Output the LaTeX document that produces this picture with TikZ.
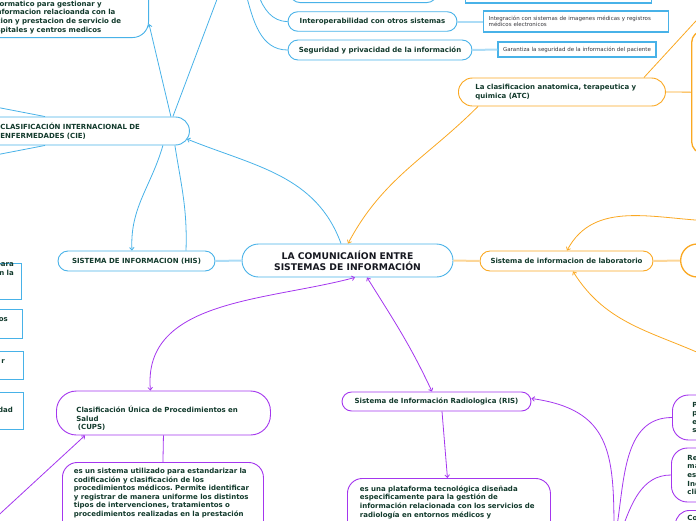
\documentclass[tikz,border=0pt]{standalone}
\usepackage{fontspec}
\setmainfont{DejaVu Sans}
\usepackage{xcolor}
\usetikzlibrary{arrows.meta, positioning}

\definecolor{ink}{RGB}{18,58,44}
\definecolor{hubink}{RGB}{22,24,32}
\definecolor{notegray}{RGB}{55,55,60}
\definecolor{cieblue}{RGB}{72,178,232}
\definecolor{lightblue}{RGB}{172,220,246}
\definecolor{atcorange}{RGB}{250,168,34}
\definecolor{lightorange}{RGB}{252,214,152}
\definecolor{rispurple}{RGB}{164,54,238}

\newcommand{\topicfont}{\bfseries\fontsize{7}{8.6}\selectfont}
\newcommand{\hubfont}{\bfseries\fontsize{9.2}{11}\selectfont}
\newcommand{\notefont}{\fontsize{5.5}{6.6}\selectfont}
\frenchspacing

\begin{document}
\begin{tikzpicture}[x=1pt, y=-1pt,
  topic/.style={rectangle, draw=#1, fill=white, line width=0.9pt, text=ink, font=\topicfont, inner sep=0pt},
  infobox/.style={rectangle, draw=cieblue, fill=white, line width=1.3pt, text=notegray, font=\notefont, inner sep=0pt},
  frag/.style={text=ink, font=\topicfont, inner sep=0pt, align=right},
  rel/.style={draw=#1, line width=0.8pt},
  tie/.style={draw=#1, line width=2pt},
  >={Straight Barb[length=2.6pt,width=4.6pt]}
]
\useasboundingbox (0,0) rectangle (696,520);

 % central topic and blue branch
 \node[topic=cieblue, font=\hubfont, text=hubink, align=center, minimum width=211pt, minimum height=33pt, rounded corners=16.5pt] (comm) at (347.5,260.5) {LA COMUNICAIÍON ENTRE\\SISTEMAS DE INFORMACIÓN};
 \node[topic=cieblue, minimum width=157pt, minimum height=20pt, rounded corners=10pt] (his) at (136.5,261) {SISTEMA DE INFORMACION (HIS)};
 \node[topic=cieblue, anchor=west, align=left, text width=174pt, inner xsep=15pt, minimum height=28pt, rounded corners=14pt] (cie) at (-15,131) {CLASIFICACIÓN INTERNACIONAL DE\\ENFERMEDADES (CIE)};
 \node[topic=cieblue, anchor=south east, align=left, text width=138pt, inner xsep=14pt, inner ysep=4pt, text height=60pt, rounded corners=16pt] (hosp) at (149,38) {formatico para gestionar y\\nformacion relacioanda con la\\cion y prestacion de servicio de\\spitales y centros medicos};
 \node[topic=cieblue, anchor=south, minimum width=147pt, minimum height=24pt, rounded corners=10pt] (topnode) at (363.5,3) {};
 \node[infobox, anchor=south west, minimum width=186pt, minimum height=20pt] (topnote) at (465,3.5) {};
 \node[topic=cieblue, minimum width=169pt, minimum height=19.5pt, rounded corners=9.75pt] (interop) at (372.5,21.5) {Interoperabilidad con otros sistemas};
 \node[infobox, anchor=west, align=left, text width=175pt, inner xsep=5pt, minimum height=21pt] (interopnote) at (483,21.5) {Integración con sistemas de imagenes médicas y registros\\médicos electronicos};
 \node[topic=cieblue, minimum width=184pt, minimum height=20pt, rounded corners=10pt] (secur) at (380,50) {Seguridad y privacidad de la información};
 \node[infobox, minimum width=158pt, minimum height=15pt] (securnote) at (577,49.5) {Garantiza la seguridad de la información del paciente};

 % boxes cut at the left edge
 \node[infobox, anchor=north east, minimum width=60pt, minimum height=36pt] (leftA) at (22,263) {};
 \node[infobox, anchor=north east, minimum width=60pt, minimum height=29pt] (leftB) at (23,309) {};
 \node[infobox, anchor=north east, minimum width=60pt, minimum height=28pt] (leftC) at (24,351) {};
 \node[infobox, anchor=north east, minimum width=60pt, minimum height=37pt] (leftD) at (24,392) {};
 \node[frag, anchor=base east] (leftAtxt) at (14,275.5) {para\\n la};
 \node[frag, anchor=base east] (leftBtxt) at (8,321) {os};
 \node[frag, anchor=base east] (leftCtxt) at (5,363) {r};
 \node[frag, anchor=base east] (leftDtxt) at (13,412.5) {dad};

 % orange branch
 \node[topic=atcorange, anchor=west, align=left, text width=173pt, inner xsep=17pt, minimum height=28pt, rounded corners=14pt] (atc) at (458,92) {La clasificacion anatomica, terapeutica y\\quimica (ATC)};
 \node[topic=atcorange, line width=1.3pt, anchor=north west, minimum width=80pt, minimum height=123pt, rounded corners=12pt] (atcnext) at (691,30) {};
 \node[topic=atcorange, minimum width=173pt, minimum height=20pt, rounded corners=10pt] (lab) at (566.5,261) {Sistema de informacion de laboratorio};
 \node[topic=atcorange, line width=1.3pt, anchor=west, minimum width=80pt, minimum height=33pt, rounded corners=16.5pt] (labnext) at (680,260.5) {};

 % purple branch
 \node[topic=rispurple, anchor=west, align=left, text width=174pt, inner xsep=20pt, text height=17pt, minimum height=44pt, rounded corners=20pt] (cups) at (56,413) {Clasificación Única de Procedimientos en\\Salud\\\hspace{1.5pt}(CUPS)};
 \node[topic=rispurple, anchor=north west, align=left, text width=178pt, inner xsep=11.5pt, inner ysep=5.7pt, text depth=80pt, rounded corners=15pt] (cupsnote) at (62,462) {es un sistema utilizado para estandarizar la\\codificación y clasificación de los\\procedimientos médicos. Permite identificar\\y registrar de manera uniforme los distintos\\tipos de intervenciones, tratamientos o\\procedimientos realizadas en la prestación};
 \node[topic=rispurple, minimum width=189pt, minimum height=19pt, rounded corners=9.5pt] (ris) at (436.5,401.5) {Sistema de Información Radiologica (RIS)};
 \node[topic=rispurple, anchor=north west, align=left, text width=178pt, inner xsep=12.5pt, inner ysep=7.2pt, text depth=80pt, rounded corners=15pt] (risnote) at (347,478) {es una plataforma tecnológica diseñada\\especificamente para la gestión de\\información relacionada con los servicios de\\radiología en entornos médicos y};
 \node[topic=rispurple, anchor=west, align=left, text width=60pt, inner xsep=20pt, minimum height=45pt, rounded corners=16pt] (proc1) at (672,417.5) {P\\p\\e\\s};
 \node[topic=rispurple, anchor=west, align=left, text width=60pt, inner xsep=16pt, minimum height=54pt, rounded corners=16pt] (proc2) at (671,475) {Re\\ma\\es\\Inc\\cli};
 \node[topic=rispurple, anchor=north west, align=left, text width=60pt, inner xsep=12pt, inner ysep=5pt, text depth=30pt, rounded corners=14pt] (proc3) at (675,510) {Co};

 % blue connectors
 \coordinate (cieoffA) at (-20,104);
 \coordinate (cieoffB) at (-20,158);
 \coordinate (cieoffC) at (219,-6);
 \coordinate (hubI) at (258,-6);
 \coordinate (hubS) at (246,-6);
 \draw[rel=cieblue] ([xshift=60pt]cie.north west) -- (cieoffA);
 \draw[rel=cieblue] ([xshift=60pt]cie.south west) -- (cieoffB);
 \draw[rel=cieblue, ->] ([xshift=-19pt]cie.north east) -- ([yshift=14pt]hosp.south east);
 \draw[rel=cieblue] ([xshift=-17pt]cie.north east) -- (cieoffC);
 \draw[rel=cieblue, ->] ([xshift=-27pt]cie.south east) to[out=-106,in=93] ([xshift=-4.5pt]his.north);
 \draw[rel=cieblue] ([xshift=-15pt]cie.south east) to[out=-81,in=88] ([xshift=49.5pt]his.north);
 \draw[rel=cieblue, ->] ([xshift=-6.5pt]comm.north) to[out=110,in=-22] ([xshift=-3pt,yshift=-8pt]cie.east);
 \draw[tie=lightblue] (his.east) -- (comm.west);
 \draw[rel=cieblue] (hubI) to[out=-70,in=180] (interop.west);
 \draw[rel=cieblue] (hubS) to[out=-75,in=180] (secur.west);
 \draw[tie=lightblue] (interop.east) -- (interopnote.west);
 \draw[tie=lightblue] (secur.east) -- (securnote.west);

 % orange connectors
 \coordinate (atcoff) at (706,10);
 \coordinate (laboffA) at (712,221);
 \coordinate (laboffB) at (710,358);
 \draw[rel=atcorange] ([xshift=-22pt]atc.north east) -- (atcoff);
 \draw[rel=atcorange] (atc.east) -- (atcnext.west);
 \draw[rel=atcorange, ->] ([xshift=20pt]atc.south west) to[out=-135,in=62] ([xshift=0.5pt]comm.north);
 \draw[tie=lightorange] (comm.east) -- (lab.west);
 \draw[tie=lightorange] (lab.east) -- (labnext.west);
 \draw[rel=atcorange, ->] (laboffA) to[out=178,in=62] ([xshift=0.5pt]lab.north);
 \draw[rel=atcorange, ->] (laboffB) to[out=155,in=-58] ([xshift=6.5pt]lab.south);

 % purple connectors
 \coordinate (cupsoff) at (-10,523);
 \coordinate (risoff) at (614,532);
 \coordinate (procoffA) at (616,532);
 \coordinate (procoffB) at (621,532);
 \draw[rel=rispurple, <->] ([xshift=7.5pt]comm.south) to[out=-165,in=95] ([xshift=-13pt]cups.north);
 \draw[rel=rispurple, <->] ([xshift=19.5pt]comm.south) to[out=-58,in=115] ([xshift=-4.5pt]ris.north);
 \draw[rel=rispurple] (cups.south) -- (cupsnote.north);
 \draw[rel=rispurple, ->] (cupsoff) -- ([xshift=29pt]cups.south west);
 \draw[rel=rispurple, ->] ([xshift=5.5pt]ris.south) -- ([xshift=-1.5pt]risnote.north);
 \draw[rel=rispurple, ->] (risoff) to[out=90,in=-8,looseness=1.3] ([yshift=3pt]ris.east);
 \draw[rel=rispurple] (procoffA) to[out=80,in=180] (proc1.west);
 \draw[rel=rispurple] (procoffB) to[out=70,in=180] (proc2.west);
\end{tikzpicture}
\end{document}
